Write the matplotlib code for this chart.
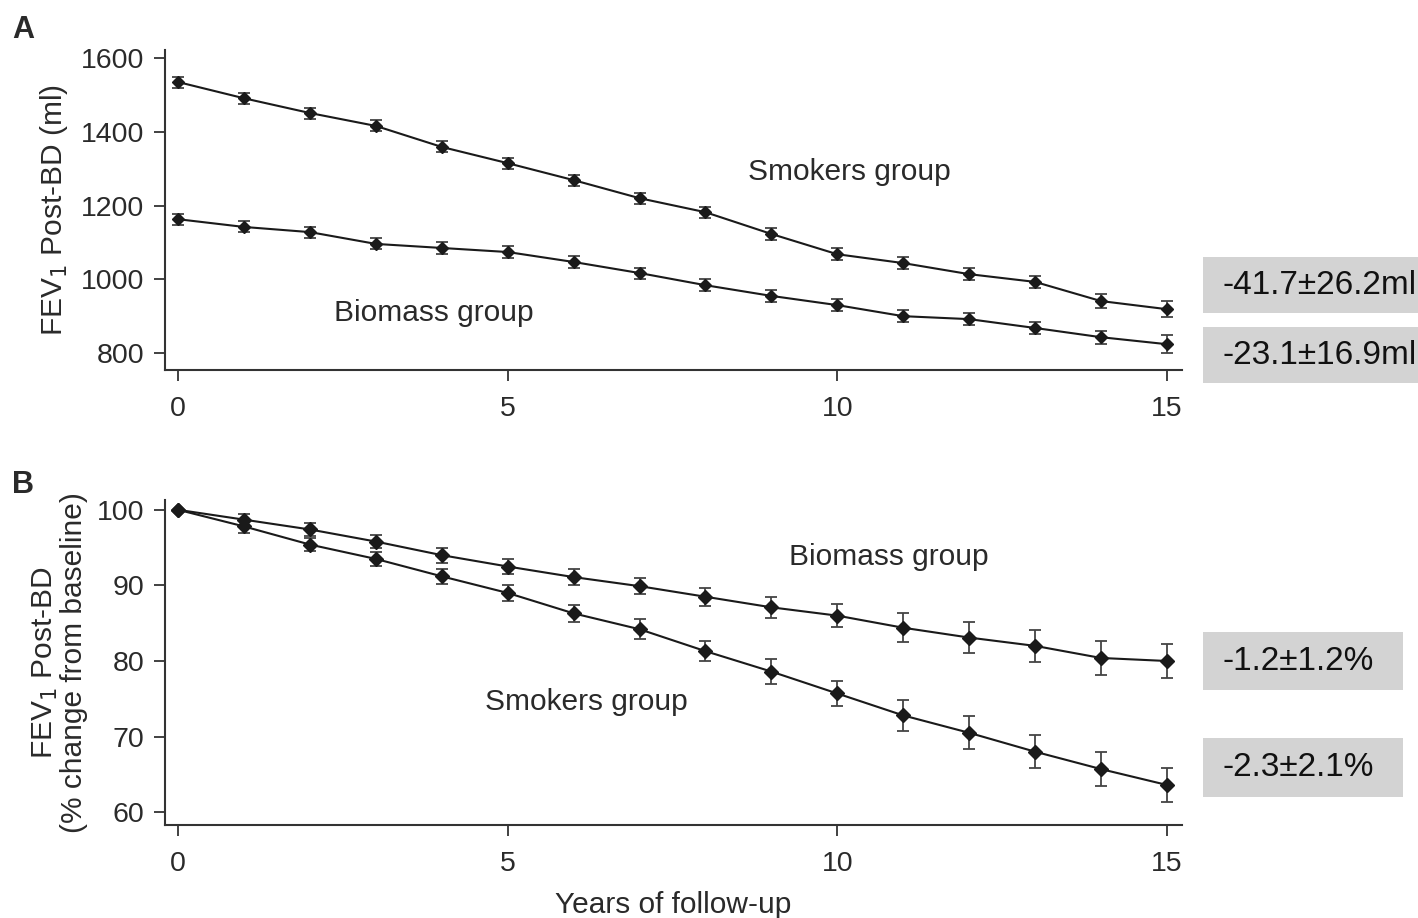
import numpy as np
import matplotlib
matplotlib.use("Agg")
from matplotlib import pyplot as plt
from matplotlib.patches import Rectangle

plt.rcParams['font.family'] = ['Liberation Sans', 'DejaVu Sans']

years = list(range(16))

# Painel A - FEV1 pos-BD (ml)
smokers_ml = [1535, 1491, 1451, 1416, 1359, 1315, 1269, 1220, 1182, 1123, 1068, 1044, 1014, 993, 941, 919]
smokers_ml_err = [15, 15, 15, 15, 15, 15, 15, 15, 15, 16, 16, 16, 17, 17, 18, 22]
biomass_ml = [1163, 1142, 1128, 1096, 1085, 1074, 1047, 1017, 984, 955, 930, 900, 892, 868, 843, 824]
biomass_ml_err = [15, 15, 15, 15, 15, 15, 15, 15, 16, 16, 16, 16, 16, 17, 18, 25]

# Painel B - % de mudanca em relacao ao basal
biomass_pct = [100, 98.7, 97.4, 95.8, 94.0, 92.5, 91.1, 89.9, 88.5, 87.1, 86.0, 84.4, 83.1, 82.0, 80.4, 80.0]
biomass_pct_err = [0, 0.8, 0.9, 0.9, 1.0, 1.0, 1.1, 1.1, 1.2, 1.4, 1.5, 1.9, 2.0, 2.1, 2.3, 2.3]
smokers_pct = [100, 97.8, 95.4, 93.5, 91.2, 89.0, 86.3, 84.2, 81.3, 78.6, 75.7, 72.8, 70.5, 68.0, 65.7, 63.6]
smokers_pct_err = [0, 0.8, 0.9, 0.9, 1.0, 1.1, 1.1, 1.3, 1.35, 1.6, 1.6, 2.0, 2.2, 2.2, 2.3, 2.3]

box_a = ["-41.7\u00b126.2ml", "-23.1\u00b116.9ml"]
box_b = ["-1.2\u00b11.2%", "-2.3\u00b12.1%"]

fig = plt.figure(figsize=(14.18, 9.18), dpi=100)
W, H = 1418, 918
txtc = "#2a2a2a"

def px_axes(l, t, r, b):
    return fig.add_axes([l / W, 1 - b / H, (r - l) / W, (b - t) / H])

def style(ax):
    for s in ("top", "right"):
        ax.spines[s].set_visible(False)
    for s in ("left", "bottom"):
        ax.spines[s].set_linewidth(1.5)
        ax.spines[s].set_color("#333333")
    ax.tick_params(direction="out", length=8, width=1.3, color="#333333", labelsize=20.5, labelcolor=txtc)
    ax.tick_params(axis="x", pad=11)
    ax.tick_params(axis="y", pad=7)
    ax.set_xlim(-0.2, 15.23)
    ax.set_xticks([0, 5, 10, 15])

def serie(ax, y, e, ms):
    ax.errorbar(years, y, yerr=e, color="#1a1a1a", lw=1.5, marker="D", ms=ms,
                ecolor="#444444", elinewidth=1.3, capsize=4, capthick=1.3)

axA = px_axes(165, 50, 1182, 370)
style(axA)
serie(axA, smokers_ml, smokers_ml_err, 6)
serie(axA, biomass_ml, biomass_ml_err, 6)
axA.set_ylim(754, 1622)
axA.set_yticks([800, 1000, 1200, 1400, 1600])
axA.set_ylabel("FEV$_1$ Post-BD (ml)", fontsize=21.5, color=txtc, labelpad=8)
axA.text(10.18, 1291, "Smokers group", fontsize=21.5, ha="center", va="center", color=txtc)
axA.text(3.88, 908, "Biomass group", fontsize=21.5, ha="center", va="center", color=txtc)

axB = px_axes(165, 500, 1182, 825)
style(axB)
serie(axB, biomass_pct, biomass_pct_err, 7.5)
serie(axB, smokers_pct, smokers_pct_err, 7.5)
axB.set_ylim(58.3, 101.3)
axB.set_yticks([60, 70, 80, 90, 100])
axB.set_ylabel("FEV$_1$ Post-BD\n(% change from baseline)", fontsize=21.5, color=txtc, labelpad=6, linespacing=1.0)
axB.set_xlabel("Years of follow-up", fontsize=21.5, color=txtc, labelpad=10)
axB.text(10.78, 93.8, "Biomass group", fontsize=21.5, ha="center", va="center", color=txtc)
axB.text(6.19, 74.6, "Smokers group", fontsize=21.5, ha="center", va="center", color=txtc)

# caixas cinzas com as taxas de declinio
def caixa(l, t, r, b, txt):
    fig.add_artist(Rectangle((l / W, 1 - b / H), (r - l) / W, (b - t) / H,
                             transform=fig.transFigure, facecolor="#d3d3d3", edgecolor="none"))
    fig.text((l + 19) / W, 1 - (t + b) / 2 / H, txt, fontsize=24, ha="left", va="center", color="#111111")

caixa(1203, 257, 1418, 313, box_a[0])
caixa(1203, 327, 1418, 383, box_a[1])
caixa(1203, 632, 1403, 690, box_b[0])
caixa(1203, 738, 1403, 797, box_b[1])

fig.text(12 / W, 1 - 30 / H, "A", fontsize=22, fontweight="bold", va="center", color=txtc)
fig.text(12 / W, 1 - 485 / H, "B", fontsize=22, fontweight="bold", va="center", color=txtc)

fig.savefig("out.png", dpi=100)
